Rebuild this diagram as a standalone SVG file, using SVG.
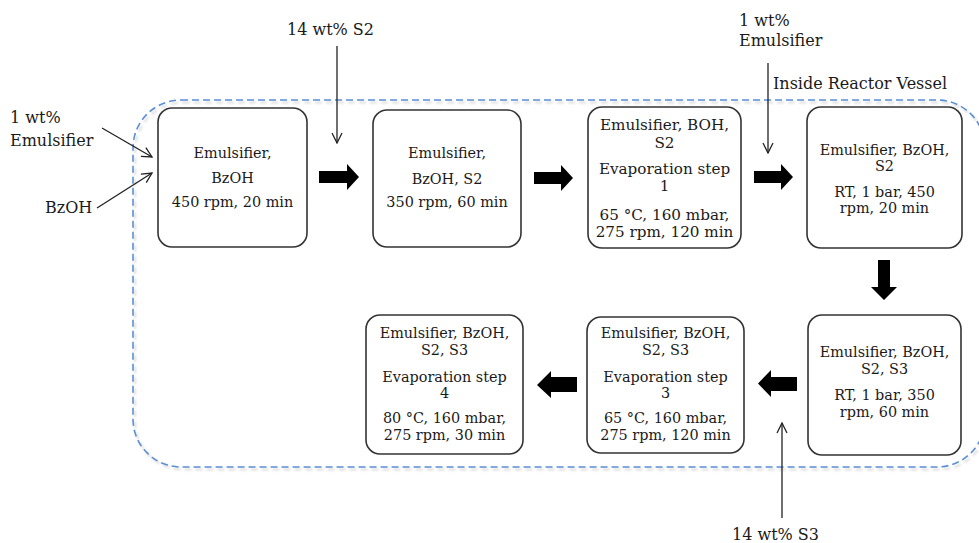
<svg xmlns="http://www.w3.org/2000/svg" width="979" height="543" viewBox="0 0 979 543">
  <style>
    .box { fill: #ffffff; stroke: #333333; stroke-width: 1.6; }
    .t { font-family: "DejaVu Serif", "Liberation Serif", serif; font-size: 14.4px; fill: #1a1a1a; text-anchor: middle; }
    .t3 { font-size: 15.2px; }
    .lbl { font-family: "DejaVu Serif", "Liberation Serif", serif; font-size: 16px; fill: #1a1a1a; }
    .feed { stroke: #222222; stroke-width: 1.3; fill: none; }
    .block { fill: #000000; }
    .vessel { fill: none; stroke: #5b8fd6; stroke-width: 1.6; stroke-dasharray: 7 4; }
    .vessel-shadow { fill: none; stroke: #9a9a9a; stroke-width: 2; stroke-dasharray: 7 4; opacity: 0.35; }
  </style>
  <defs>
    <marker id="open" viewBox="0 0 12 12" refX="11" refY="6" markerWidth="12" markerHeight="12" markerUnits="userSpaceOnUse" orient="auto">
      <path d="M1,1 L11,6 L1,11" fill="none" stroke="#222222" stroke-width="1.3"/>
    </marker>
    <filter id="soft" x="-5%" y="-5%" width="110%" height="110%">
      <feGaussianBlur stdDeviation="1.2"/>
    </filter>
  </defs>

  <rect width="979" height="543" fill="#ffffff"/>

  <!-- reactor vessel boundary -->
  <g id="vessel">
    <rect class="vessel-shadow" x="135" y="102.5" width="852" height="367" rx="48" filter="url(#soft)"/>
    <rect class="vessel" x="133" y="100" width="852" height="367" rx="48"/>
    <text class="lbl" x="773" y="89">Inside Reactor Vessel</text>
  </g>

  <!-- process steps -->
  <g id="step1">
    <rect class="box" x="158" y="108" width="149" height="139" rx="14"/>
    <text class="t" x="232.5" y="158">Emulsifier,</text>
    <text class="t" x="232.5" y="183">BzOH</text>
    <text class="t" x="232.5" y="207">450 rpm, 20 min</text>
  </g>
  <g id="step2">
    <rect class="box" x="373" y="110" width="148" height="137" rx="14"/>
    <text class="t" x="447" y="158">Emulsifier,</text>
    <text class="t" x="447" y="184">BzOH, S2</text>
    <text class="t" x="447" y="207">350 rpm, 60 min</text>
  </g>
  <g id="step3">
    <rect class="box" x="588" y="107" width="153" height="141" rx="14"/>
    <text class="t t3" x="664.5" y="130">Emulsifier, BOH,</text>
    <text class="t t3" x="664.5" y="148">S2</text>
    <text class="t t3" x="664.5" y="174">Evaporation step</text>
    <text class="t t3" x="664.5" y="191">1</text>
    <text class="t t3" x="664.5" y="220">65 °C, 160 mbar,</text>
    <text class="t t3" x="664.5" y="237">275 rpm, 120 min</text>
  </g>
  <g id="step4">
    <rect class="box" x="807" y="107" width="155" height="141" rx="14"/>
    <text class="t" x="884.5" y="155">Emulsifier, BzOH,</text>
    <text class="t" x="884.5" y="171">S2</text>
    <text class="t" x="884.5" y="197">RT, 1 bar, 450</text>
    <text class="t" x="884.5" y="213">rpm, 20 min</text>
  </g>
  <g id="step5">
    <rect class="box" x="808" y="315" width="153" height="140" rx="14"/>
    <text class="t" x="884.5" y="357">Emulsifier, BzOH,</text>
    <text class="t" x="884.5" y="374">S2, S3</text>
    <text class="t" x="884.5" y="400">RT, 1 bar, 350</text>
    <text class="t" x="884.5" y="417">rpm, 60 min</text>
  </g>
  <g id="step6">
    <rect class="box" x="587" y="317" width="157" height="136" rx="14"/>
    <text class="t" x="665.5" y="338">Emulsifier, BzOH,</text>
    <text class="t" x="665.5" y="355">S2, S3</text>
    <text class="t" x="665.5" y="382">Evaporation step</text>
    <text class="t" x="665.5" y="398">3</text>
    <text class="t" x="665.5" y="423">65 °C, 160 mbar,</text>
    <text class="t" x="665.5" y="440">275 rpm, 120 min</text>
  </g>
  <g id="step7">
    <rect class="box" x="366" y="315" width="157" height="139" rx="14"/>
    <text class="t" x="444.5" y="338">Emulsifier, BzOH,</text>
    <text class="t" x="444.5" y="355">S2, S3</text>
    <text class="t" x="444.5" y="382">Evaporation step</text>
    <text class="t" x="444.5" y="398">4</text>
    <text class="t" x="444.5" y="423">80 °C, 160 mbar,</text>
    <text class="t" x="444.5" y="440">275 rpm, 30 min</text>
  </g>

  <!-- feed labels -->
  <g id="feed-emulsifier-1">
    <text class="lbl" x="10" y="123">1 wt%</text>
    <text class="lbl" x="10" y="146">Emulsifier</text>
  </g>
  <g id="feed-bzoh">
    <text class="lbl" x="45" y="213">BzOH</text>
  </g>
  <g id="feed-s2">
    <text class="lbl" x="287" y="35">14 wt% S2</text>
  </g>
  <g id="feed-emulsifier-2">
    <text class="lbl" x="739" y="26">1 wt%</text>
    <text class="lbl" x="739" y="46">Emulsifier</text>
  </g>
  <g id="feed-s3">
    <text class="lbl" x="732" y="540">14 wt% S3</text>
  </g>

  <!-- connectors -->
  <g id="connectors">
    <!-- feed lines -->
    <line class="feed" x1="102" y1="128" x2="152" y2="157" marker-end="url(#open)"/>
    <line class="feed" x1="97" y1="208" x2="152" y2="173" marker-end="url(#open)"/>
    <line class="feed" x1="337" y1="46" x2="337" y2="143" marker-end="url(#open)"/>
    <line class="feed" x1="768" y1="63" x2="768" y2="153" marker-end="url(#open)"/>
    <line class="feed" x1="782" y1="518" x2="782" y2="423" marker-end="url(#open)"/>

    <!-- block arrows between steps -->
    <polygon class="block" points="319,171 347,171 347,164 359,177 347,190 347,183 319,183"/>
    <polygon class="block" points="534,172 561,172 561,165 573,178 561,191 561,184 534,184"/>
    <polygon class="block" points="754,171 781,171 781,164 793,177 781,190 781,183 754,183"/>
    <polygon class="block" points="878,260 890,260 890,287 897,287 884,300 871,287 878,287"/>
    <polygon class="block" points="797,377 771,377 771,370 758,383.5 771,397 771,391 797,391"/>
    <polygon class="block" points="577,377 551,377 551,371 537,385 551,398 551,392 577,392"/>
  </g>
</svg>
